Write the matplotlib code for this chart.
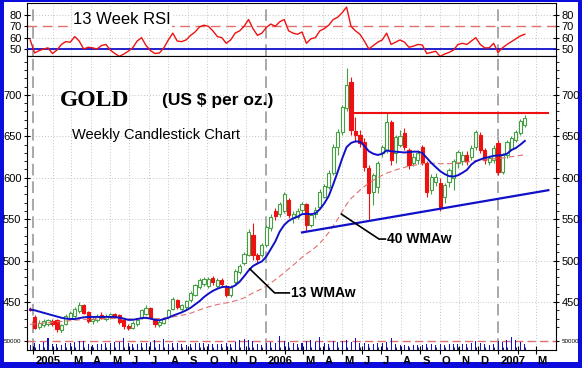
#!/usr/bin/env python3

import numpy as np
import pandas as pd
import matplotlib
matplotlib.use('Agg')
import matplotlib.pyplot as plt
from matplotlib import ticker as mplticker
from matplotlib.patches import Rectangle
import matplotlib.transforms as mtransforms

# weekly candles, first week starts 2004-12-27
FIRST_WEEK = '2004-12-27'

opens = [
  442, 432, 420, 422, 424, 427, 428, 416, 424, 430,
  433, 439, 446, 438, 427, 428, 434, 429, 432, 435,
  434, 428, 421, 419, 423, 432, 436, 443, 428, 422,
  425, 432, 442, 452, 441, 444, 452, 459, 468, 472,
  469, 479, 469, 477, 469, 458, 474, 486, 497, 507,
  531, 507, 507, 519, 539, 560, 556, 560, 573, 552,
  553, 561, 568, 543, 556, 565, 577, 589, 606, 637,
  655, 684, 716, 656, 652, 643, 612, 583, 589, 630,
  633, 667, 630, 640, 654, 633, 618, 621, 637, 618,
  585, 595, 594, 577, 595, 600, 618, 620, 628, 625,
  637, 652, 633, 619, 622, 642, 607, 627, 635, 646,
  654, 664]

closes = [
  440, 419, 425, 427, 428, 424, 418, 422, 433, 437,
  441, 447, 437, 427, 430, 433, 431, 433, 436, 433,
  426, 421, 419, 425, 428, 440, 443, 431, 423, 426,
  430, 440, 454, 444, 446, 451, 461, 470, 477, 478,
  478, 474, 476, 472, 459, 468, 488, 494, 508, 535,
  507, 502, 519, 540, 553, 554, 568, 580, 555, 556,
  560, 568, 543, 555, 561, 583, 590, 606, 637, 655,
  685, 712, 658, 652, 642, 613, 582, 603, 618, 637,
  667, 621, 649, 650, 637, 615, 625, 630, 618, 583,
  601, 601, 565, 591, 609, 620, 631, 628, 620, 636,
  655, 634, 621, 624, 636, 607, 627, 643, 648, 655,
  668, 672]

highs = [
  444, 434, 428, 429, 430, 429, 429, 424, 435, 439,
  444, 450, 448, 439, 432, 436, 438, 436, 437, 437,
  435, 429, 423, 427, 430, 442, 447, 444, 430, 428,
  432, 442, 456, 454, 448, 453, 463, 472, 479, 480,
  480, 481, 479, 479, 471, 470, 490, 496, 510, 538,
  545, 509, 521, 543, 556, 563, 571, 583, 575, 560,
  563, 571, 570, 557, 565, 586, 593, 609, 641, 659,
  688, 732, 722, 673, 658, 648, 616, 606, 620, 640,
  679, 670, 652, 658, 660, 636, 630, 633, 640, 620,
  604, 606, 600, 594, 612, 623, 634, 632, 632, 640,
  658, 655, 636, 628, 640, 645, 630, 646, 651, 658,
  671, 676]

lows = [
  439, 417, 418, 420, 421, 421, 414, 412, 422, 428,
  431, 437, 435, 425, 424, 426, 429, 427, 430, 431,
  424, 418, 416, 417, 421, 430, 434, 429, 420, 420,
  423, 430, 440, 442, 439, 442, 450, 457, 466, 469,
  467, 471, 467, 469, 456, 456, 472, 484, 495, 505,
  501, 496, 504, 517, 536, 549, 553, 557, 552, 545,
  550, 558, 536, 540, 552, 562, 575, 586, 603, 628,
  652, 680, 652, 643, 637, 608, 548, 567, 582, 625,
  630, 615, 618, 637, 634, 610, 614, 617, 615, 577,
  580, 590, 560, 570, 589, 585, 612, 615, 615, 622,
  634, 630, 617, 616, 618, 603, 604, 624, 633, 643,
  652, 661]

wma13 = [
  441, 440, 438.5, 437, 435.5, 434, 432.5, 431, 430, 429.5,
  429.5, 430.5, 431.5, 432, 432, 432, 432, 432, 432, 432,
  431, 430, 428.5, 428.5, 429.5, 430.5, 431, 430, 428.5, 428,
  429.5, 431, 433.5, 435.5, 437.5, 440, 443, 447, 451, 456,
  460, 463.5, 466, 468, 468.5, 467.5, 470, 474.5, 481, 488,
  493.5, 496.5, 499, 505, 514, 523, 535, 543, 548, 551,
  553, 556, 556.5, 556, 557, 562, 569, 578, 592, 607,
  623, 637, 642, 644, 643.5, 638.5, 632, 629, 627.5, 629,
  633, 632, 631.5, 631, 630.5, 631, 631.5, 631.5, 630, 624,
  618, 613, 608, 604.5, 602, 601.5, 603, 606, 609.5, 616,
  620, 622, 624, 625, 626.5, 627, 627.5, 629, 633.5, 636,
  640, 644.5]

wma40 = [
  423, 423.5, 424, 424.5, 425, 425.5, 426, 426.5, 427, 427.5,
  428, 428.5, 429, 429, 429, 429.5, 429.5, 430, 430, 430,
  430, 429.5, 429.5, 429.5, 429.5, 430, 430, 430, 430, 430,
  430.5, 431, 432, 433, 434, 435, 436.5, 438.5, 440.5, 442.5,
  444, 445.5, 447, 448, 449, 450, 451.5, 453, 455, 458,
  461, 463.5, 466, 469.5, 473, 477, 481, 485.5, 490, 494.5,
  499, 504, 508, 512, 516, 521, 527, 534, 542, 550,
  559, 568, 575, 580, 585, 589.5, 593.5, 597, 600, 603,
  605.5, 607.5, 609.5, 611, 612.5, 614, 615, 616, 617, 617.5,
  617.5, 617.5, 617, 617, 617, 617.5, 618, 618.5, 619, 619.5,
  620.5, 621, 621.5, 622, 623, 623.5, 624, 624.5, 625.5, 626,
  627, 628]

rsi13 = [
  58, 46.5, 48.5, 50, 51, 46, 49, 54, 56.5, 56,
  61, 57, 50, 51.5, 51, 50, 53, 54, 49, 46,
  43.5, 45.5, 48, 51, 57, 60, 53, 48.5, 46, 46.5,
  51, 58, 64, 57, 56.5, 58, 62, 65, 69.5, 71,
  70, 66, 61, 60, 55, 58, 64, 66, 70, 76,
  68, 62, 64, 69, 72, 70, 74, 76, 66, 64,
  63, 65, 55, 59, 60, 66, 68, 71, 76, 78,
  82, 87, 70, 66, 63, 57, 50, 53, 56, 58,
  64, 54, 56, 58, 56, 51.5, 52.5, 54, 53.5, 46,
  47, 48, 43.5, 45.5, 47, 49, 54, 55, 54, 57,
  60, 54, 51, 51, 55, 47, 51, 54, 56.5, 59,
  61.5, 63]

volume = [
  28000, 38000, 33000, 42000, 64000, 33000, 35000, 30000, 36000, 39000,
  45000, 48000, 52000, 33000, 28000, 31000, 33000, 36000, 39000, 43000,
  45000, 66000, 38000, 33000, 35000, 41000, 38000, 43000, 53000, 35000,
  60000, 33000, 38000, 36000, 31000, 29000, 33000, 38000, 41000, 36000,
  33000, 31000, 33000, 35000, 38000, 33000, 43000, 58000, 61000, 58000,
  48000, 33000, 28000, 38000, 43000, 41000, 78000, 48000, 43000, 36000,
  33000, 38000, 51000, 53000, 43000, 70000, 38000, 33000, 48000, 43000,
  51000, 58000, 45000, 67000, 41000, 36000, 33000, 31000, 38000, 41000,
  45000, 64000, 31000, 28000, 25000, 23000, 28000, 25000, 27000, 33000,
  31000, 29000, 33000, 28000, 31000, 33000, 35000, 33000, 31000, 38000,
  48000, 41000, 33000, 28000, 31000, 48000, 43000, 53000, 70000, 58000,
  43000, 33000]

# trend lines drawn on the chart
resist_dates = ['2006-05-20', '2007-03-21']
resist_level = [678, 678]
support_dates = ['2006-02-27', '2007-03-21']
support_level = [534, 585]

# labels with their leader lines (date, price)
wma13_label_dates = ['2005-12-07', '2006-01-15', '2006-02-07']
wma13_label_prices = [490, 461, 461]
wma40_label_dates = ['2006-04-30', '2006-06-28', '2006-07-08']
wma40_label_prices = [556, 526, 526]

MONTH_LETTERS = ['J', 'F', 'M', 'A', 'M', 'J', 'J', 'A', 'S', 'O', 'N', 'D']

GREEN = '#45a045'
RED = '#ee1111'
BLUE = '#1010c8'
SALMON = '#e07070'
GRID = '#c4c4c4'
YEARLINE = '#a8a8a8'


def gold_chart():
  plt.rcParams['font.family'] = ['Liberation Sans', 'DejaVu Sans']

  dates = pd.date_range(FIRST_WEEK, periods=len(closes), freq='7D')
  o = np.array(opens, float)
  c = np.array(closes, float)
  up = c >= o

  fig = plt.figure(figsize=(5.82, 3.68), dpi=100, facecolor='#0c0cdc')
  fig.patches.append(Rectangle((4/582, 1 - 362/368), 574/582, 360/368,
                               transform=fig.transFigure, facecolor='white',
                               edgecolor='none', zorder=-1))

  L, W = 27/582, 529/582
  ax_rsi = fig.add_axes([L, 1 - 56/368, W, 53/368])
  ax = fig.add_axes([L, 1 - 333/368, W, 277/368], sharex=ax_rsi)
  ax_vol = fig.add_axes([L, 1 - 350/368, W, 17/368], sharex=ax_rsi)

  months = pd.date_range('2005-01-01', '2007-03-01', freq='MS')

  for a in (ax_rsi, ax, ax_vol):
    for m in months:
      if m.month == 1:
        a.axvline(m, color=YEARLINE, lw=1.4, ls=(0, (6, 3)), zorder=1)
      else:
        a.axvline(m, color=GRID, lw=0.7, ls=(0, (1, 2)), zorder=0)
    a.tick_params(axis='y', which='both', left=True, right=True,
                  labelleft=True, labelright=True, labelsize=8, pad=1.5)
    a.tick_params(axis='y', which='major', direction='inout', length=5)
    a.tick_params(axis='y', which='minor', direction='out', length=2)

  # RSI panel
  ax_rsi.plot(dates, rsi13, color=RED, lw=1.0, zorder=4)
  ax_rsi.axhline(70, color=SALMON, lw=1.0, ls=(0, (7, 4)), zorder=2)
  ax_rsi.axhline(50, color=BLUE, lw=1.3, zorder=3)
  for lvl in (60, 80):
    ax_rsi.axhline(lvl, color=GRID, lw=0.7, ls=(0, (1, 2)), zorder=0)
  ax_rsi.set_ylim(43.8, 90.6)
  ax_rsi.set_yticks([50, 60, 70, 80])
  ax_rsi.tick_params(axis='x', which='both', bottom=False, labelbottom=False)
  ax_rsi.text(0.087, 0.69, '13 Week RSI', transform=ax_rsi.transAxes,
              fontsize=12, va='center', ha='left', zorder=5,
              bbox=dict(facecolor='white', edgecolor='none', pad=1))

  # price panel
  ax.vlines(dates, lows, highs, colors=np.where(up, GREEN, RED), lw=0.8, zorder=2)
  body_h = np.maximum(np.abs(c - o), 0.8)
  ax.bar(dates, body_h, bottom=np.minimum(o, c), width=5.0,
         color=np.where(up, 'white', RED), edgecolor=np.where(up, GREEN, RED),
         lw=0.8, zorder=3)
  ax.plot(dates, wma40, color=SALMON, lw=0.8, ls=(0, (5, 3)), zorder=4)
  ax.plot(dates, wma13, color=BLUE, lw=1.4, zorder=5)

  ax.plot(pd.to_datetime(resist_dates), resist_level, color=RED, lw=1.5, zorder=5)
  ax.plot(pd.to_datetime(support_dates), support_level, color=BLUE, lw=1.6, zorder=5)

  ax.plot(pd.to_datetime(wma13_label_dates), wma13_label_prices, color='black', lw=1.2, zorder=6)
  ax.text(pd.Timestamp(wma13_label_dates[-1]) + pd.Timedelta(days=2), wma13_label_prices[-1],
          '13 WMAw', fontsize=10, fontweight='bold', va='center', ha='left', zorder=6)
  ax.plot(pd.to_datetime(wma40_label_dates), wma40_label_prices, color='black', lw=1.2, zorder=6)
  ax.text(pd.Timestamp(wma40_label_dates[-1]) + pd.Timedelta(days=2), wma40_label_prices[-1],
          '40 WMAw', fontsize=10, fontweight='bold', va='center', ha='left', zorder=6)

  ax.text(0.0624, 0.84, 'GOLD', transform=ax.transAxes, fontsize=17,
          fontweight='bold', family=['Liberation Serif', 'DejaVu Serif'],
          va='center', ha='left')
  ax.text(0.255, 0.84, '(US $ per oz.)', transform=ax.transAxes, fontsize=12.5,
          fontweight='bold', va='center', ha='left')
  ax.text(0.085, 0.715, 'Weekly Candlestick Chart', transform=ax.transAxes,
          fontsize=10.5, va='center', ha='left')

  ax.set_ylim(412.6, 747)
  ax.yaxis.set_major_locator(mplticker.MultipleLocator(50))
  ax.yaxis.set_minor_locator(mplticker.MultipleLocator(10))
  ax.yaxis.set_major_formatter(mplticker.FuncFormatter(lambda y, _: '{:g}'.format(y) if y >= 450 else ''))
  ax.grid(True, axis='y', color=GRID, lw=0.7, ls=(0, (1, 2)))
  ax.tick_params(axis='x', which='both', bottom=False, labelbottom=False)
  ax.spines['bottom'].set_visible(False)

  # volume panel
  ax_vol.bar(dates, volume, width=1.6, color=BLUE, zorder=3)
  ax_vol.axhline(50000, color=SALMON, lw=1.0, ls=(0, (6, 3)), zorder=2)
  ax_vol.set_ylim(0, 94000)
  ax_vol.set_yticks([50000])
  ax_vol.set_yticklabels(['50000'])
  ax_vol.tick_params(axis='y', labelsize=4.5)
  ax_vol.spines['top'].set_visible(False)

  ax_vol.set_xlim(pd.Timestamp('2004-12-22'), pd.Timestamp('2007-04-02'))
  ax_vol.set_xticks(months)
  ax_vol.set_xticklabels([str(m.year) if m.month == 1 else
                          ('' if m.month == 2 else MONTH_LETTERS[m.month - 1])
                          for m in months])
  ax_vol.xaxis.set_minor_locator(mplticker.FixedLocator(matplotlib.dates.date2num(dates)))
  ax_vol.tick_params(axis='x', which='major', direction='inout', length=6,
                     labelsize=8, pad=1)
  ax_vol.tick_params(axis='x', which='minor', direction='in', length=2)
  shift = mtransforms.ScaledTranslation(1.5/72, 0, fig.dpi_scale_trans)
  for lbl in ax_vol.get_xticklabels():
    lbl.set_horizontalalignment('left')
    lbl.set_fontweight('bold')
    lbl.set_transform(lbl.get_transform() + shift)

  plt.savefig('out.png', dpi=100, facecolor=fig.get_facecolor())


if __name__ == "__main__":
  gold_chart()
